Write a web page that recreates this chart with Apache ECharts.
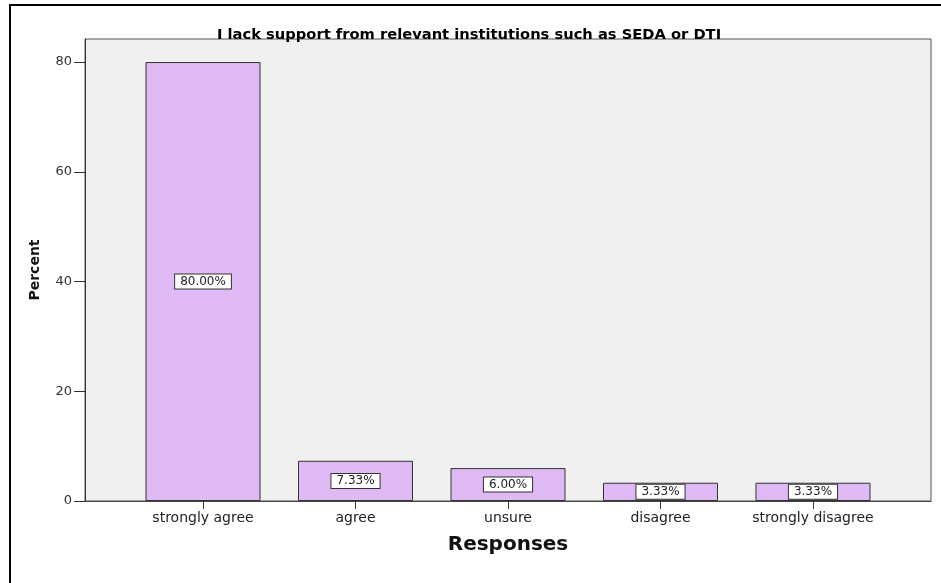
<!DOCTYPE html>
<html>
<head>
<meta charset="utf-8">
<script src="https://cdn.jsdelivr.net/npm/echarts@6/dist/echarts.min.js"></script>
<style>
  html, body { margin: 0; padding: 0; background: #fff; }
  #chart { width: 941px; height: 583px; }
</style>
</head>
<body>
<div id="chart"></div>
<script>
// Survey responses (percent of respondents)
const categories = ['strongly agree', 'agree', 'unsure', 'disagree', 'strongly disagree'];
const percents = [80.00, 7.33, 6.00, 3.33, 3.33];
const yTicks = [0, 20, 40, 60, 80];

const titleText = 'I lack support from relevant institutions such as SEDA or DTI';
const FONT = '"DejaVu Sans", "Liberation Sans", sans-serif';

const chart = echarts.init(document.getElementById('chart'), null, { renderer: 'canvas' });

const catIdx = categories.map((_, i) => i);

chart.setOption({
  animation: false,
  backgroundColor: '#ffffff',
  title: {
    text: titleText,
    left: 212,
    top: 23,
    textStyle: { fontFamily: FONT, fontSize: 14.7, fontWeight: 'bold', color: '#000' }
  },
  graphic: [{
    type: 'rect',
    shape: { x: 10, y: 5, width: 1000, height: 1000 },
    style: { fill: 'none', stroke: '#000', lineWidth: 2 },
    silent: true,
    z: 100
  }],
  grid: {
    left: 85, right: 10, top: 39, bottom: 82,
    show: true,
    backgroundColor: '#f0f0f0',
    borderColor: '#555',
    borderWidth: 1
  },
  xAxis: {
    type: 'value',
    min: -0.774,
    max: 4.774,
    name: 'Responses',
    nameLocation: 'middle',
    nameGap: 34,
    nameTextStyle: { fontFamily: FONT, fontSize: 20, fontWeight: 'bold', color: '#111' },
    splitLine: { show: false },
    axisLine: { show: true, onZero: false, lineStyle: { color: '#444', width: 1 } },
    axisTick: { show: true, length: 8, customValues: catIdx, lineStyle: { color: '#333' } },
    axisLabel: {
      show: true,
      margin: 10,
      customValues: catIdx,
      fontFamily: FONT,
      fontSize: 14,
      color: '#222',
      formatter: v => categories[Math.round(v)] || ''
    }
  },
  yAxis: {
    type: 'value',
    min: 0,
    max: 84.2,
    interval: 20,
    name: 'Percent',
    nameLocation: 'middle',
    nameGap: 43,
    nameRotate: 90,
    nameTextStyle: { fontFamily: FONT, fontSize: 14, fontWeight: 'bold', color: '#111' },
    splitLine: { show: false },
    axisLine: { show: true, onZero: false, lineStyle: { color: '#333', width: 1 } },
    axisTick: { show: true, length: 11, customValues: yTicks, lineStyle: { color: '#333' } },
    axisLabel: {
      margin: 13,
      fontFamily: FONT,
      fontSize: 13,
      color: '#333',
      customValues: yTicks
    }
  },
  series: [{
    type: 'bar',
    barWidth: 115,
    data: percents.map((p, i) => [i, p]),
    itemStyle: { color: '#dfb9f3', borderColor: '#333', borderWidth: 1 },
    label: {
      show: true,
      position: 'inside',
      formatter: p => p.value[1].toFixed(2) + '%',
      fontFamily: FONT,
      fontSize: 12,
      lineHeight: 12,
      color: '#222',
      backgroundColor: '#ffffff',
      borderColor: '#333',
      borderWidth: 1,
      padding: [1, 5]
    }
  }]
});
</script>
</body>
</html>
